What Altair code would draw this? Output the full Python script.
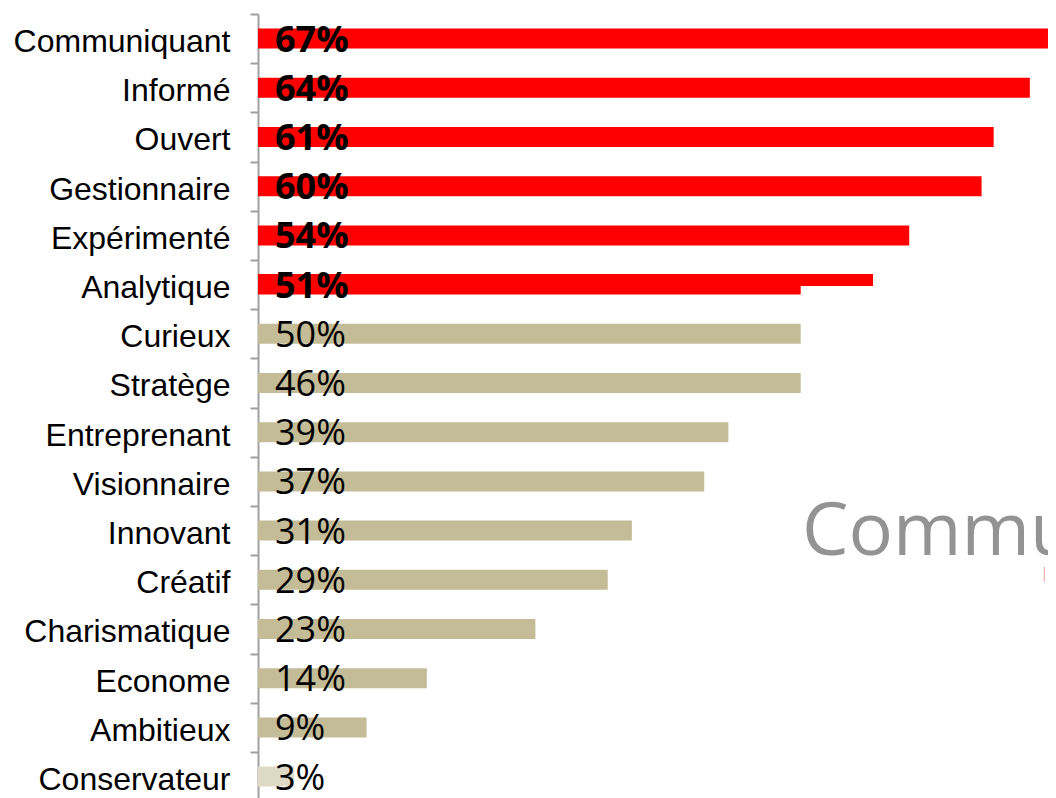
import altair as alt
import pandas as pd

categories = ["Communiquant", "Informé", "Ouvert", "Gestionnaire", "Expérimenté",
              "Analytique", "Curieux", "Stratège", "Entreprenant", "Visionnaire",
              "Innovant", "Créatif", "Charismatique", "Econome", "Ambitieux", "Conservateur"]
bar_values = [67, 64, 61, 60, 54, 45, 45, 45, 39, 37, 31, 29, 23, 14, 9, 3]
label_texts = ["67%", "64%", "61%", "60%", "54%", "51%", "50%", "46%", "39%", "37%",
               "31%", "29%", "23%", "14%", "9%", "3%"]
groups = ["top"] * 6 + ["mid"] * 9 + ["low"]

# Analytique row: extra thinner red segment reaching 51%
extra_cat = ["Analytique"]
extra_val = [51]

df = pd.DataFrame({"cat": categories, "val": bar_values, "lab": label_texts, "grp": groups})
extra = pd.DataFrame({"cat": extra_cat, "val": extra_val, "grp": ["top"]})
wm = pd.DataFrame({"cat": ["Innovant"], "val": [45.1], "txt": ["Commu"]})
logo_tick = pd.DataFrame({"cat": ["Créatif"], "val": [65.2]})

PX_PER = 12.06
W = 790
xscale = alt.Scale(domain=[0, W / PX_PER], nice=False, zero=True)
yenc = alt.Y("cat:N", sort=categories, title=None,
             scale=alt.Scale(paddingInner=0, paddingOuter=0),
             axis=alt.Axis(tickBand="extent", domainColor="#a0a0a0", domainWidth=2,
                           tickColor="#a0a0a0", tickWidth=2, tickSize=8,
                           labelFont="Liberation Sans", labelFontSize=32,
                           labelColor="#000000", labelPadding=20, labelOffset=3,
                           labelLimit=400))
color = alt.Color("grp:N", legend=None,
                  scale=alt.Scale(domain=["top", "mid", "low"],
                                  range=["#ff0000", "#c4bc96", "#dedac6"]))

bars = alt.Chart(df).mark_bar(size=20, clip=True).encode(
    x=alt.X("val:Q", scale=xscale, axis=None),
    y=yenc,
    color=color,
)

extra_bar = alt.Chart(extra).mark_bar(size=12, yOffset=-4.5, clip=True).encode(
    x=alt.X("val:Q", scale=xscale, axis=None),
    y=alt.Y("cat:N", sort=categories),
    color=color,
)

labels_bold = alt.Chart(df).transform_filter("datum.grp == 'top'").transform_calculate(z="0").mark_text(
    align="left", baseline="middle", dx=17, dy=2,
    font="Open Sans", fontSize=36, fontWeight="bold", color="#000000").encode(
    x=alt.X("z:Q", scale=xscale, axis=None),
    y=alt.Y("cat:N", sort=categories),
    text="lab:N",
)

labels_norm = alt.Chart(df).transform_filter("datum.grp != 'top'").transform_calculate(z="0").mark_text(
    align="left", baseline="middle", dx=17, dy=2,
    font="Open Sans", fontSize=36, color="#000000").encode(
    x=alt.X("z:Q", scale=xscale, axis=None),
    y=alt.Y("cat:N", sort=categories),
    text="lab:N",
)

watermark = alt.Chart(wm).mark_text(align="left", baseline="alphabetic", dy=24,
                                    font="Open Sans", fontSize=74, color="#939393").encode(
    x=alt.X("val:Q", scale=xscale, axis=None),
    y=alt.Y("cat:N", sort=categories),
    text="txt:N",
)

logo = alt.Chart(logo_tick).mark_tick(orient="vertical", thickness=1, size=15, yOffset=-5.5,
                                      color="#f07070").encode(
    x=alt.X("val:Q", scale=xscale, axis=None),
    y=alt.Y("cat:N", sort=categories),
)

chart = alt.layer(bars, extra_bar, labels_bold, labels_norm, watermark, logo).properties(
    width=W, height=16 * 49.2,
    autosize=alt.AutoSizeParams(type="none"),
    padding={"left": 250, "top": 6, "right": 0, "bottom": 0},
).configure_view(stroke=None)

chart.save("out.html", embed_options={"renderer": "svg", "actions": False})
